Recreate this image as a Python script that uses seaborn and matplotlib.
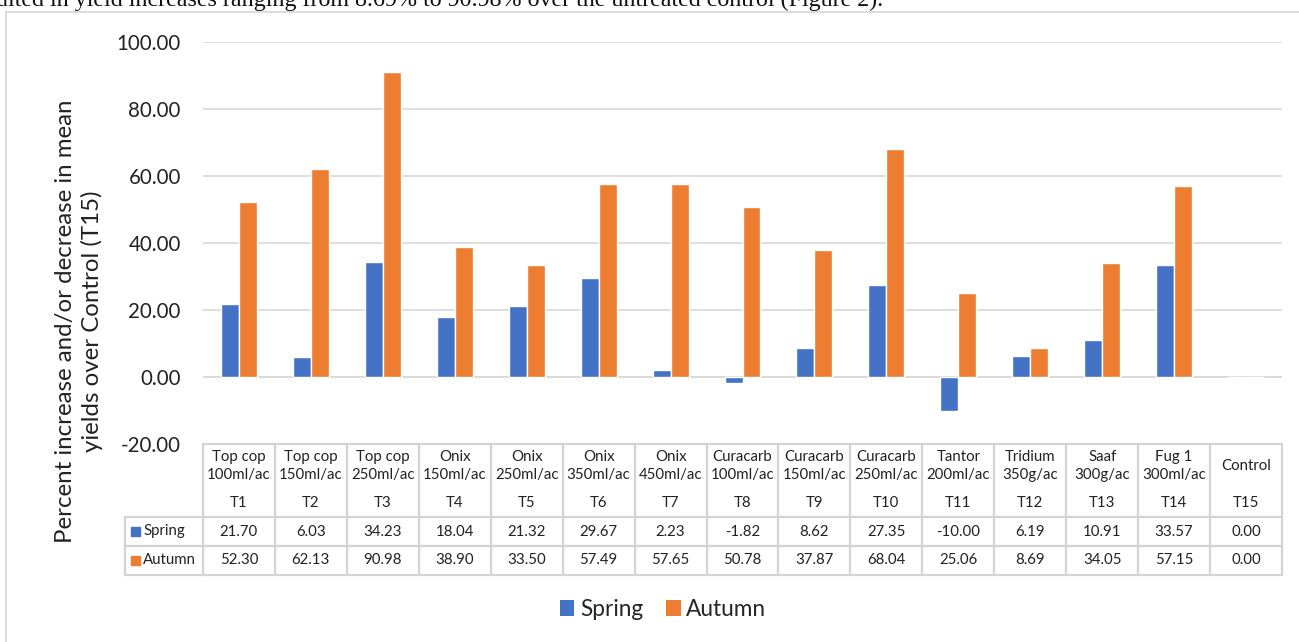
import matplotlib
matplotlib.use("Agg")
import matplotlib.pyplot as plt
import matplotlib.transforms as mtransforms
from matplotlib.lines import Line2D
from matplotlib.patches import Rectangle, Patch
import seaborn as sns
import pandas as pd

# ---------------- data ----------------
codes = ["T1", "T2", "T3", "T4", "T5", "T6", "T7", "T8", "T9", "T10",
         "T11", "T12", "T13", "T14", "T15"]
names = ["Top cop\n100ml/ac", "Top cop\n150ml/ac", "Top cop\n250ml/ac",
         "Onix\n150ml/ac", "Onix\n250ml/ac", "Onix\n350ml/ac", "Onix\n450ml/ac",
         "Curacarb\n100ml/ac", "Curacarb\n150ml/ac", "Curacarb\n250ml/ac",
         "Tantor\n200ml/ac", "Tridium\n350g/ac", "Saaf\n300g/ac",
         "Fug 1\n300ml/ac", "Control"]
spring = [21.70, 6.03, 34.23, 18.04, 21.32, 29.67, 2.23, -1.82, 8.62, 27.35,
          -10.00, 6.19, 10.91, 33.57, 0.00]
autumn = [52.30, 62.13, 90.98, 38.90, 33.50, 57.49, 57.65, 50.78, 37.87, 68.04,
          25.06, 8.69, 34.05, 57.15, 0.00]
series = ["Spring", "Autumn"]
colors = ["#4472C4", "#ED7D31"]
yticks = [-20, 0, 20, 40, 60, 80, 100]
ylabel = "Percent increase and/or decrease in mean\nyields over Control (T15)"
top_text = "ulted in yield increases ranging from 8.69% to 90.98% over the untreated control (Figure 2)."

df = pd.DataFrame({
    "code": codes * 2,
    "value": spring + autumn,
    "season": [series[0]] * len(codes) + [series[1]] * len(codes),
})

# ---------------- figure ----------------
W, H = 1299, 642
sns.set_theme(style="white")
plt.rcParams["font.family"] = ["Lato", "DejaVu Sans"]
fig = plt.figure(figsize=(W / 100, H / 100), dpi=100)

def fx(px):
    return px / W

def fy(py):
    return 1 - py / H

# chart frame
fig.add_artist(Rectangle((fx(6), fy(700)), fx(1400), fy(12) - fy(700),
                         transform=fig.transFigure, fill=False,
                         edgecolor="#D9D9D9", linewidth=1.3))

# top cut-off text (the reference shows only its lower part)
fig.text(fx(-4), fy(6), top_text, family=["Liberation Serif", "DejaVu Serif"],
         fontsize=17.3, ha="left", va="baseline", color="#111111")

ax = fig.add_axes([fx(203), fy(444), fx(1282) - fx(203), fy(42) - fy(444)])
sns.barplot(data=df, x="code", y="value", hue="season", palette=colors,
            width=0.5, saturation=1, ax=ax, legend=False, order=codes,
            hue_order=series)
ax.set_xlim(-0.5, len(codes) - 0.5)
ax.set_ylim(-20, 100)
ax.set_yticks(yticks)
ax.set_yticklabels([f"{v:.2f}" for v in yticks], fontsize=14.8, color="#222222")
ax.set_xticks([])
ax.set_xlabel("")
ax.set_ylabel("")
ax.tick_params(axis="y", length=0, pad=16)
ax.grid(axis="y", color="#D9D9D9", linewidth=1.2)
ax.set_axisbelow(True)
for s in ax.spines.values():
    s.set_visible(False)
ax.axhline(0, color="#D9D9D9", linewidth=1.2, zorder=0)

# y label
fig.text(fx(79), fy(321), ylabel, rotation=90, ha="center", va="center",
         multialignment="center", fontsize=17.3, linespacing=1.3,
         color="#222222")

# ---------------- data table ----------------
tr = mtransforms.blended_transform_factory(ax.transData, fig.transFigure)
grid_c = "#D4D4D4"
lw = 1.6
n = len(codes)
y_top, y_hdr, y_r1, y_r2 = fy(444), fy(517), fy(546), fy(575)

def hline(x0, x1, y, transform):
    fig.add_artist(Line2D([x0, x1], [y, y], transform=transform,
                          color=grid_c, linewidth=lw))

def vline(x, y0, y1, transform):
    fig.add_artist(Line2D([x, x], [y0, y1], transform=transform,
                          color=grid_c, linewidth=lw))

hline(-0.5, n - 0.5, y_top, tr)
for yy in (y_hdr, y_r1, y_r2):
    hline(-0.5, n - 0.5, yy, tr)
    fig.add_artist(Line2D([fx(125), fx(203)], [yy, yy],
                          transform=fig.transFigure, color=grid_c, linewidth=lw))
for i in range(n + 1):
    vline(i - 0.5, y_r2, y_top, tr)
vline(fx(125), y_r2, y_hdr, fig.transFigure)

fs_tab = 10.8
for i in range(n):
    fig.text(i, fy(466), names[i], transform=tr, ha="center", va="center",
             fontsize=fs_tab, linespacing=1.35, color="#222222")
    fig.text(i, fy(503), codes[i], transform=tr, ha="center", va="center",
             fontsize=fs_tab, color="#222222")
    fig.text(i, fy(531.5), f"{spring[i]:.2f}", transform=tr, ha="center",
             va="center", fontsize=fs_tab, color="#222222")
    fig.text(i, fy(560.5), f"{autumn[i]:.2f}", transform=tr, ha="center",
             va="center", fontsize=fs_tab, color="#222222")

for k, (lab, yc) in enumerate(zip(series, (531.5, 560.5))):
    fig.add_artist(Rectangle((fx(131), fy(yc + 4.5)), fx(9), fy(yc - 4.5) - fy(yc + 4.5),
                             transform=fig.transFigure, color=colors[k]))
    fig.text(fx(143), fy(yc), lab, ha="left", va="center", fontsize=fs_tab,
             color="#222222")

# ---------------- legend ----------------
handles = [Patch(facecolor=c, edgecolor="none", label=l) for c, l in zip(colors, series)]
fig.legend(handles=handles, loc="center", bbox_to_anchor=(fx(663), fy(609)),
           ncol=2, frameon=False, fontsize=16.3, handlelength=0.65,
           handleheight=0.7, handletextpad=0.25, columnspacing=1.0)

fig.savefig("out.png", dpi=100)
